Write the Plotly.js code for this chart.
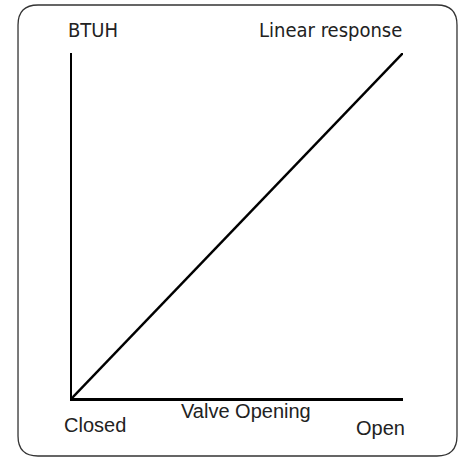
<!DOCTYPE html>
<html>
<head>
<meta charset="utf-8">
<script src="https://cdn.plot.ly/plotly-3.0.1.min.js"></script>
<style>html,body{margin:0;padding:0;background:#fff;}#chart{width:461px;height:458px;}</style>
</head>
<body>
<div id="chart"></div>
<script>
// Data
const valveOpening = [0, 100];
const btuh = [0, 100];
const endLabels = ["Closed", "Open"];
const xTitle = "Valve Opening";
const yTitle = "BTUH";
const chartTitle = "Linear response";

const W = 461, H = 458;
const L = 72, R = 403, T = 53, B = 398;
const px = x => (x - L) / (R - L);
const py = y => (B - y) / (B - T);

const narrow = "'Liberation Sans Narrow', 'DejaVu Sans Condensed', sans-serif";
const regular = "'Liberation Sans', Arial, sans-serif";

// rounded border path in paper coords
const bx0 = 18, by0 = 5, bx1 = 457, by1 = 456, r = 20;
function P(x, y) { return px(x).toFixed(4) + ',' + py(y).toFixed(4); }
const borderPath = 'M' + P(bx0 + r, by0) + ' L' + P(bx1 - r, by0) +
  ' Q' + P(bx1, by0) + ' ' + P(bx1, by0 + r) +
  ' L' + P(bx1, by1 - r) + ' Q' + P(bx1, by1) + ' ' + P(bx1 - r, by1) +
  ' L' + P(bx0 + r, by1) + ' Q' + P(bx0, by1) + ' ' + P(bx0, by1 - r) +
  ' L' + P(bx0, by0 + r) + ' Q' + P(bx0, by0) + ' ' + P(bx0 + r, by0) + ' Z';

const trace = {
  x: valveOpening, y: btuh, type: 'scatter', mode: 'lines',
  line: { color: '#000', width: 2.5 }, cliponaxis: false, hoverinfo: 'skip'
};

function ann(text, x, y, xanchor, font, size) {
  return { text: text, xref: 'paper', yref: 'paper', x: px(x), y: py(y),
    xanchor: xanchor, yanchor: 'middle', showarrow: false, borderpad: 0,
    font: { family: font, size: size, color: '#222' } };
}

const layout = {
  width: W, height: H, margin: { l: L, r: W - R, t: T, b: H - B, pad: 0 },
  paper_bgcolor: '#fff', plot_bgcolor: '#fff', showlegend: false,
  xaxis: { range: [valveOpening[0], valveOpening[1]], showline: true, linecolor: '#000', linewidth: 2.5,
    showgrid: false, zeroline: false, showticklabels: false, ticks: '', fixedrange: true },
  yaxis: { range: [btuh[0], btuh[1]], showline: true, linecolor: '#000', linewidth: 2.5,
    showgrid: false, zeroline: false, showticklabels: false, ticks: '', fixedrange: true },
  shapes: [{ type: 'path', xref: 'paper', yref: 'paper', path: borderPath,
    line: { color: '#333', width: 1.3 }, fillcolor: 'rgba(0,0,0,0)' }],
  annotations: [
    ann(yTitle, 67, 30, 'left', narrow, 20),
    ann(chartTitle, 403, 30, 'right', narrow, 20),
    ann(endLabels[0], 63, 425, 'left', regular, 20),
    ann(xTitle, 180, 411, 'left', regular, 20),
    ann(endLabels[1], 406, 428, 'right', regular, 20)
  ]
};

Plotly.newPlot('chart', [trace], layout, { displayModeBar: false, staticPlot: true });
</script>
</body>
</html>
